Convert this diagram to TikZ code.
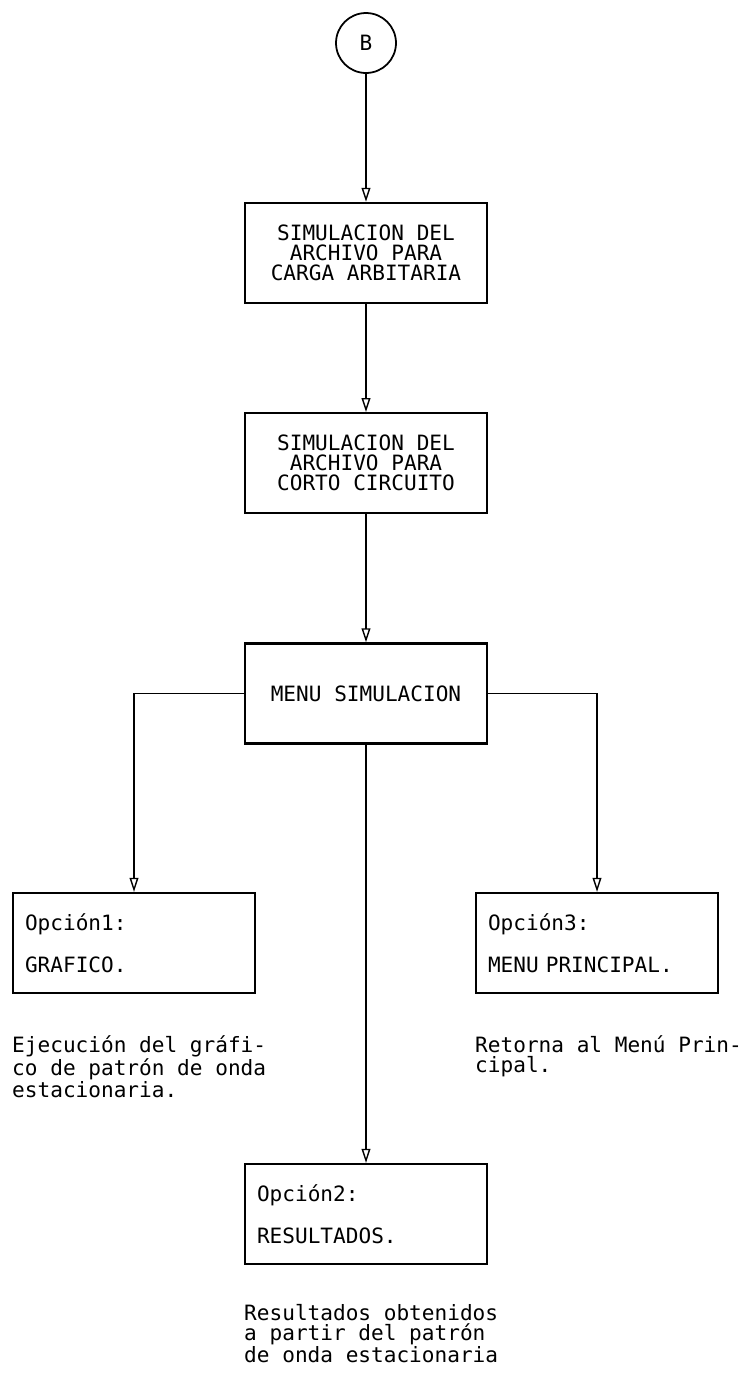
\documentclass[tikz,border=0pt]{standalone}
\usepackage{fontspec}
\setmonofont{DejaVu Sans Mono}
\usetikzlibrary{positioning,arrows.meta}
\begin{document}
\begin{tikzpicture}[x=0.02cm,y=-0.02cm,
  font=\ttfamily\fontsize{12}{11.4}\selectfont,
  box/.style={draw,line width=1.3pt,minimum width=4.84cm,minimum height=2cm,
    inner sep=0pt,align=center},
  optbox/.style={box,text width=4.36cm,align=left},
  desc/.style={inner sep=0pt,align=left},
  arr/.style={line width=0.8pt,-{Triangle[open,length=8pt,width=5pt]}}]
  \useasboundingbox (0,0) rectangle (747,1373);
  \node [circle,draw,line width=1pt,minimum size=1.2cm,inner sep=0pt] (b) at (366,43) {B};
  \node [box,below=2.56cm of b] (sim1) {SIMULACION DEL\\ARCHIVO PARA\\CARGA ARBITARIA};
  \node [box,below=2.16cm of sim1] (sim2) {SIMULACION DEL\\ARCHIVO PARA\\CORTO CIRCUITO};
  \node [box,below=2.56cm of sim2] (menu) {MENU SIMULACION};
  \node [optbox] (opc1) at (134,943) {Opción1:\\[11.8pt]GRAFICO.};
  \node [optbox] (opc3) at (597,943) {Opción3:\\[11.8pt]MENU PRINCIPAL.};
  \node [optbox] (opc2) at (366,1214) {Opción2:\\[11.8pt]RESULTADOS.};
  \node [desc,below=0.82cm of opc1.south west,anchor=north west] (desc1)
    {Ejecución del gráfi-\\co de patrón de onda\\estacionaria.};
  \node [desc,below=0.82cm of opc3.south west,anchor=north west] (desc3)
    {Retorna al Menú Prin-\\cipal.};
  \node [desc,below=0.78cm of opc2.south west,anchor=north west] (desc2)
    {Resultados obtenidos\\a partir del patrón\\de onda estacionaria};
  \draw [arr] (b) -- (sim1);
  \draw [arr] (sim1) -- (sim2);
  \draw [arr] (sim2) -- (menu);
  \draw [arr] (menu.west) -| (opc1.north);
  \draw [arr] (menu.east) -| (opc3.north);
  \draw [arr] (menu) -- (opc2);
\end{tikzpicture}
\end{document}
